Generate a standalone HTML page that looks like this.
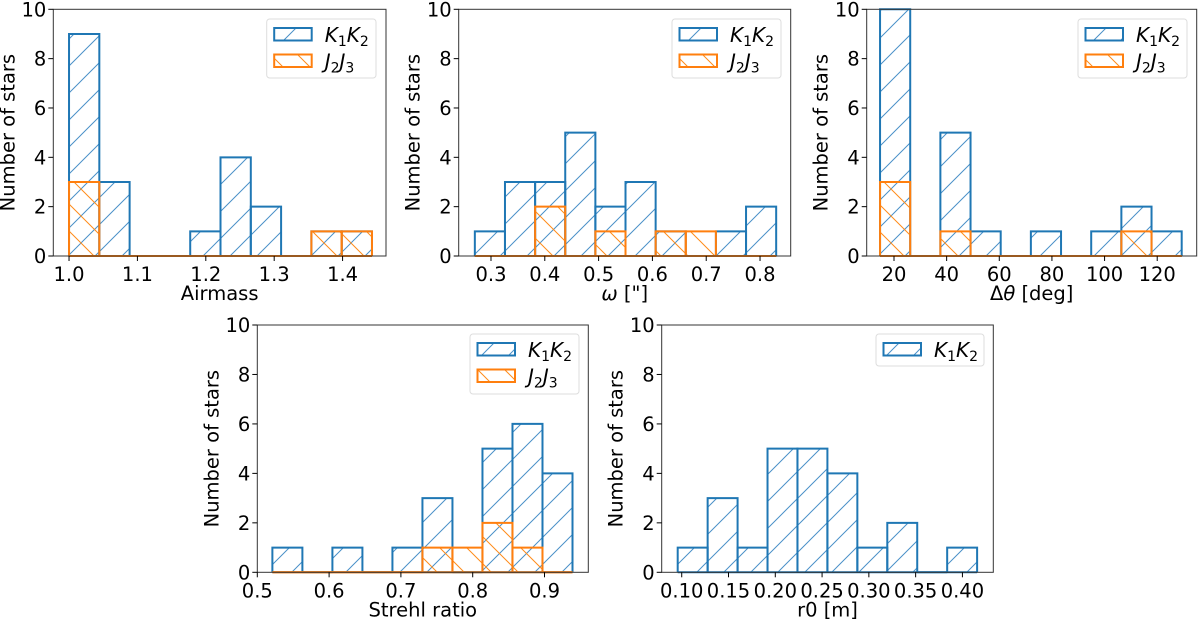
<!DOCTYPE html>
<html><head><meta charset="utf-8"><style>
html,body{margin:0;padding:0;background:#fff;}
svg text{font-family:"DejaVu Sans","Liberation Sans",sans-serif;fill:#000;}
</style></head><body>
<svg id="fig" width="1200" height="619" viewBox="0 0 1200 619" xmlns="http://www.w3.org/2000/svg">
<defs>
<pattern id="hb" patternUnits="userSpaceOnUse" width="27" height="27"><path d="M-2,29 L29,-2 M-2,2 L2,-2 M25,29 L29,25" stroke="#4a90c8" stroke-width="1" fill="none"/></pattern>
<pattern id="ho" patternUnits="userSpaceOnUse" width="27" height="27"><path d="M-2,-2 L29,29 M-2,25 L2,29 M25,-2 L29,2" stroke="#ff8c1a" stroke-width="1" fill="none"/></pattern>
</defs>
</svg>
<script>
// ---- data ----
const airmassBlue = [9,3,0,0,1,4,2,0,1,1];
const airmassOrange = [3,0,0,0,0,0,0,0,1,1];
const omegaBlue = [1,3,3,5,2,3,1,0,1,2];
const omegaOrange = [0,0,2,0,1,0,1,1,0,0];
const dthetaBlue = [10,0,5,1,0,1,0,1,2,1];
const dthetaOrange = [3,0,1,0,0,0,0,0,1,0];
const strehlBlue = [1,0,1,0,1,3,0,5,6,4];
const strehlOrange = [0,0,0,0,0,1,1,2,1,0];
const r0Blue = [1,3,1,5,5,4,1,2,0,1];
const airmassTicks = ["1.0","1.1","1.2","1.3","1.4"];
const omegaTicks = ["0.3","0.4","0.5","0.6","0.7","0.8"];
const dthetaTicks = ["20","40","60","80","100","120"];
const strehlTicks = ["0.5","0.6","0.7","0.8","0.9"];
const r0Ticks = ["0.10","0.15","0.20","0.25","0.30","0.35","0.40"];
const yTicks = [0,2,4,6,8,10];

const panels = [
 {name:'airmass', L:53.3,R:386,T:9.3,B:256, xmin:0.977,xmax:1.4635, e0:1.0,w:0.0443, blue:airmassBlue, orange:airmassOrange, ticks:airmassTicks, xl:'Airmass', lg:[266.7,19,376,78]},
 {name:'omega', L:458.7,R:790.7,T:9.3,B:256, xmin:0.24,xmax:0.857, e0:0.27,w:0.056, blue:omegaBlue, orange:omegaOrange, ticks:omegaTicks, xl:'<tspan font-style="italic">ω</tspan> ["]', lg:[672,19,781,78]},
 {name:'dtheta', L:866.7,R:1196.7,T:9.3,B:256, xmin:9.63,xmax:135, e0:14.7,w:11.46, blue:dthetaBlue, orange:dthetaOrange, ticks:dthetaTicks, xl:'Δ<tspan font-style="italic">θ</tspan> [deg]', lg:[1078,19,1187,78]},
 {name:'strehl', L:257.3,R:588.3,T:325,B:572.3, xmin:0.5,xmax:0.961, e0:0.521,w:0.0418, blue:strehlBlue, orange:strehlOrange, ticks:strehlTicks, xl:'Strehl ratio', lg:[470,334,579,394]},
 {name:'r0', L:661.7,R:993.3,T:325,B:572.3, xmin:0.0786,xmax:0.433, e0:0.0957,w:0.032, blue:r0Blue, orange:null, ticks:r0Ticks, xl:'r0 [m]', lg:[876,334,984,366]}
];
const NS='http://www.w3.org/2000/svg';
const svg=document.getElementById('fig');
function mk(tag,attrs,parent){const e=document.createElementNS(NS,tag);for(const k in attrs)e.setAttribute(k,attrs[k]);(parent||svg).appendChild(e);return e;}
panels.forEach(p=>{
 const g=mk('g',{});
 
 
 const xs=v=>p.L+(v-p.xmin)/(p.xmax-p.xmin)*(p.R-p.L);
 const ys=v=>p.B-v/10*(p.B-p.T);
 const drawSeries=(arr,fill,stroke,label)=>{
  arr.forEach((c,i)=>{
   const x0=xs(p.e0+i*p.w),x1=xs(p.e0+(i+1)*p.w),y=ys(c);
   const r=mk('path',{d:`M${x0},${p.B} L${x0},${y} L${x1},${y} L${x1},${p.B}`,fill:`url(#${fill})`,stroke:stroke,'stroke-width':2});
   
   
   g.appendChild(r);
  });
  mk('line',{x1:xs(p.e0),x2:xs(p.e0+arr.length*p.w),y1:p.B,y2:p.B,stroke:stroke,'stroke-width':2},g);
 };
 drawSeries(p.blue,'hb','#1f77b4',p.name+'-k1k2');
 if(p.orange) drawSeries(p.orange,'ho','#ff7f0e',p.name+'-j2j3');
 const fr=mk('rect',{x:p.L,y:p.T,width:p.R-p.L,height:p.B-p.T,fill:'none',stroke:'#333','stroke-width':1},g);
 
 
 yTicks.forEach(t=>{
  const y=ys(t);
  mk('line',{x1:p.L-5,x2:p.L,y1:y,y2:y,stroke:'#000','stroke-width':1},g);
  const tx=mk('text',{x:p.L-7,y:y+7,'font-size':19.5,'text-anchor':'end'},g);tx.textContent=t;
  
  
 });
 p.ticks.forEach(t=>{
  const x=xs(parseFloat(t));
  mk('line',{x1:x,x2:x,y1:p.B,y2:p.B+5,stroke:'#000','stroke-width':1},g);
  const tx=mk('text',{x:x,y:p.B+25,'font-size':19.5,'text-anchor':'middle'},g);tx.textContent=t;
  
  
 });
 const xt=mk('text',{x:(p.L+p.R)/2,y:p.B+44,'font-size':19.5,'text-anchor':'middle'},g);xt.innerHTML=p.xl;
 
 
 const yx=p.L-39,yy=(p.T+p.B)/2;
 const yt=mk('text',{x:yx,y:yy,'font-size':19.5,'text-anchor':'middle',transform:`rotate(-90 ${yx} ${yy})`},g);yt.textContent='Number of stars';
 
 
 const [lx0,ly0,lx1,ly1]=p.lg;
 const lg=mk('g',{},g);
 
 
 mk('rect',{x:lx0,y:ly0,width:lx1-lx0,height:ly1-ly0,rx:3,fill:'#fff','fill-opacity':0.8,stroke:'#ddd'},lg);
 const entries=[['hb','#1f77b4','K','1','K','2']];
 if(p.orange) entries.push(['ho','#ff7f0e','J','2','J','3']);
 entries.forEach((en,i)=>{
  const py=ly0+9+i*26.5;
  const e=mk('g',{},lg);
  
  
  mk('rect',{x:lx0+7.5,y:py,width:37.5,height:12.5,fill:`url(#${en[0]})`,stroke:en[1],'stroke-width':2},e);
  const t=mk('text',{x:lx0+58,y:py+14,'font-size':20,'font-style':'italic'},e);
  t.innerHTML=`${en[2]}<tspan font-style="normal" font-size="14" dy="4">${en[3]}</tspan><tspan dy="-4">${en[4]}</tspan><tspan font-style="normal" font-size="14" dy="4">${en[5]}</tspan>`;
 });
});
</script>
</body></html>
